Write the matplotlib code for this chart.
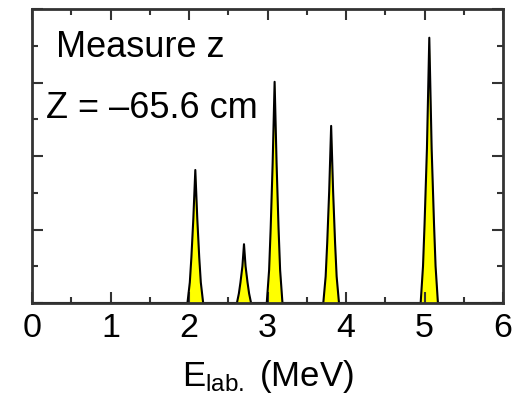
import matplotlib
matplotlib.use("Agg")
import matplotlib.pyplot as plt
from matplotlib.ticker import MultipleLocator

plt.rcParams["font.family"] = ["Liberation Sans", "DejaVu Sans"]
plt.rcParams["mathtext.fontset"] = "custom"
plt.rcParams["mathtext.rm"] = "Liberation Sans"
plt.rcParams["mathtext.it"] = "Liberation Sans"

# spectrum (energy in MeV, counts in arbitrary units)
energy = [
    0.0,
    1.98, 2.01, 2.03, 2.055, 2.08, 2.105, 2.13, 2.15, 2.18,
    2.61, 2.635, 2.655, 2.68, 2.70, 2.72, 2.745, 2.765, 2.79,
    2.99, 3.02, 3.04, 3.065, 3.09, 3.115, 3.14, 3.16, 3.19,
    3.71, 3.74, 3.76, 3.785, 3.81, 3.835, 3.86, 3.88, 3.91,
    4.95, 4.98, 5.00, 5.03, 5.06, 5.09, 5.12, 5.14, 5.17,
    6.0,
]
counts = [
    0.0,
    0.0, 0.28, 0.62, 1.15, 1.81, 1.15, 0.62, 0.28, 0.0,
    0.0, 0.13, 0.28, 0.50, 0.80, 0.50, 0.28, 0.13, 0.0,
    0.0, 0.45, 1.02, 1.90, 3.01, 1.90, 1.02, 0.45, 0.0,
    0.0, 0.36, 0.82, 1.52, 2.41, 1.52, 0.82, 0.36, 0.0,
    0.0, 0.50, 1.08, 2.10, 3.61, 2.10, 1.08, 0.50, 0.0,
    0.0,
]

x_ticks = [0, 1, 2, 3, 4, 5, 6]

fig = plt.figure(figsize=(5.16, 3.94), dpi=100)
ax = fig.add_axes([0.062, 0.231, 0.913, 0.746])

ax.fill_between(energy, counts, 0, color="#ffff00", linewidth=0)
ax.plot(energy, counts, color="black", linewidth=1.5)

ax.set_xlim(0, 6)
ax.set_ylim(0, 4)
ax.set_xticks(x_ticks)
ax.xaxis.set_minor_locator(MultipleLocator(0.5))
ax.yaxis.set_major_locator(MultipleLocator(1))
ax.yaxis.set_minor_locator(MultipleLocator(0.5))
ax.set_yticklabels([])
ax.tick_params(which="both", direction="in", top=True, right=True,
               color="#333333", width=1.5)
ax.tick_params(which="major", length=8, labelsize=24.5, pad=7)
ax.tick_params(which="minor", length=4)
for s in ax.spines.values():
    s.set_linewidth(2)
    s.set_color("#333333")

ax.set_xlabel(r"E$_{\mathrm{lab.}}$ (MeV)", fontsize=25, labelpad=10)

ax.text(0.05, 0.838, "Measure z", transform=ax.transAxes, fontsize=26,
        va="baseline", ha="left")
ax.text(0.03, 0.63, "Z = \u201365.6 cm", transform=ax.transAxes, fontsize=26,
        va="baseline", ha="left")

fig.savefig("out.png", dpi=100)
